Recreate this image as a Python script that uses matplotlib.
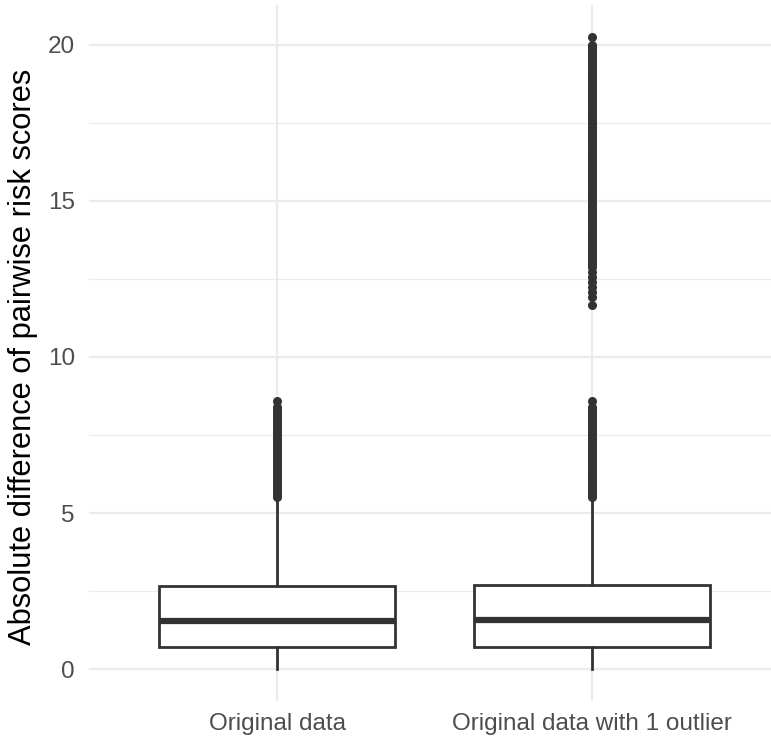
import matplotlib
matplotlib.use("Agg")
import matplotlib.pyplot as plt

plt.rcParams['font.family'] = ['Liberation Sans', 'DejaVu Sans']

# categories and box summaries
groups = ["Original data", "Original data with 1 outlier"]
q1 = [0.73, 0.73]
med = [1.56, 1.57]
q3 = [2.67, 2.69]
whis_lo = [0.0, 0.0]
whis_hi = [5.45, 5.52]

# outliers (dense columns, read as closely spaced values)
out_orig = [5.52, 5.60, 5.68, 5.76, 5.84, 5.92, 6.00, 6.08, 6.16, 6.24, 6.32,
            6.40, 6.48, 6.56, 6.64, 6.72, 6.80, 6.88, 6.96, 7.04, 7.12, 7.20,
            7.28, 7.36, 7.44, 7.52, 7.60, 7.68, 7.76, 7.84, 7.92, 8.00, 8.08,
            8.16, 8.24, 8.32, 8.40, 8.60]
out_extra = [11.66, 11.93, 12.09, 12.25, 12.41, 12.57, 12.73, 12.89, 12.97,
             13.05, 13.13, 13.21, 13.29, 13.37, 13.45, 13.53, 13.61, 13.69,
             13.77, 13.85, 13.93, 14.01, 14.09, 14.17, 14.25, 14.33, 14.41,
             14.49, 14.57, 14.65, 14.73, 14.81, 14.89, 14.97, 15.05, 15.13,
             15.21, 15.29, 15.37, 15.45, 15.53, 15.61, 15.69, 15.77, 15.85,
             15.93, 16.01, 16.09, 16.17, 16.25, 16.33, 16.41, 16.49, 16.57,
             16.65, 16.73, 16.81, 16.89, 16.97, 17.05, 17.13, 17.21, 17.29,
             17.37, 17.45, 17.53, 17.61, 17.69, 17.77, 17.85, 17.93, 18.01,
             18.09, 18.17, 18.25, 18.33, 18.41, 18.49, 18.57, 18.65, 18.73,
             18.81, 18.89, 18.97, 19.05, 19.13, 19.21, 19.29, 19.37, 19.45,
             19.53, 19.61, 19.69, 19.77, 19.85, 19.93, 19.98, 20.25]
outliers = [out_orig, out_orig + out_extra]

yticks = [0, 5, 10, 15, 20]
ylabel = "Absolute difference of pairwise risk scores"

fig = plt.figure(figsize=(7.71, 7.41), dpi=100)
ax = fig.add_axes([0.115, 0.054, 0.885, 0.939])

stats = []
for i, g in enumerate(groups):
    stats.append(dict(label=g, med=med[i], q1=q1[i], q3=q3[i],
                      whislo=whis_lo[i], whishi=whis_hi[i], fliers=outliers[i]))

dark = "#333333"
ax.bxp(stats, positions=[1, 2], widths=0.75, showcaps=False, patch_artist=True,
       boxprops=dict(facecolor="white", edgecolor=dark, linewidth=2),
       whiskerprops=dict(color=dark, linewidth=2),
       medianprops=dict(color=dark, linewidth=4.5, solid_capstyle="butt"),
       flierprops=dict(marker="o", markersize=5.5, markerfacecolor=dark,
                       markeredgecolor=dark, linestyle="none"),
       zorder=3)

ax.set_xlim(0.4, 2.57)
ax.set_ylim(-1.01, 21.26)
ax.set_yticks(yticks)
ax.set_yticks([2.5, 7.5, 12.5, 17.5], minor=True)
ax.set_xticks([1, 2])
ax.set_xticklabels(groups)

ax.grid(True, which="major", color="#EBEBEB", linewidth=1.6)
ax.grid(True, which="minor", axis="y", color="#EBEBEB", linewidth=0.9)
ax.set_axisbelow(True)
for s in ax.spines.values():
    s.set_visible(False)
ax.tick_params(which="both", length=0)
ax.tick_params(axis="y", labelsize=17.5, labelcolor="#4D4D4D", pad=10)
ax.tick_params(axis="x", labelsize=17.5, labelcolor="#4D4D4D", pad=9)
ax.set_ylabel(ylabel, fontsize=22.2)
ax.yaxis.set_label_coords(-0.074, 0.495)

fig.savefig("out.png", dpi=100)
